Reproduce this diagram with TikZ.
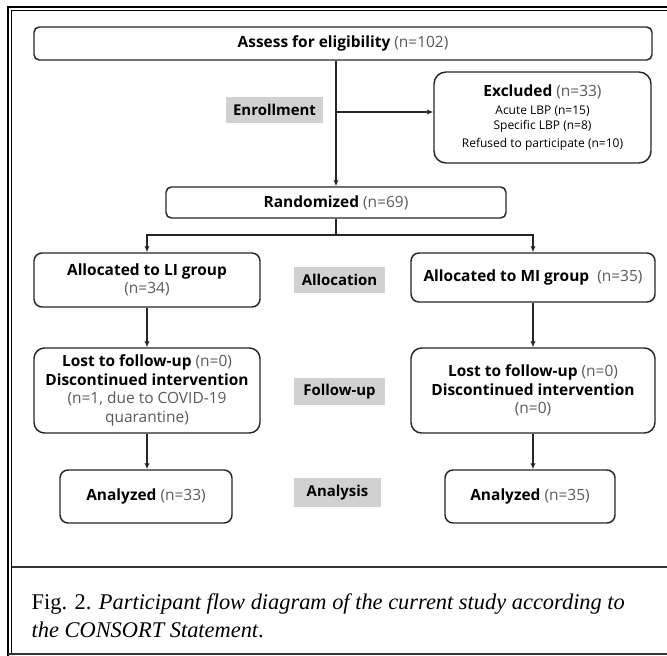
\documentclass[tikz,border=0pt]{standalone}
\usepackage{fontspec}
\setmainfont{Liberation Serif}
\newfontfamily\flowfont{Open Sans}
\usepackage{tikz}
\usetikzlibrary{arrows.meta}
\newcommand{\nn}[1]{{\mdseries\color{black!65}#1}}
\tikzset{
	box/.style={draw=black!85,line width=1.1pt,rounded corners=4pt,align=center,inner sep=1pt,
		font=\flowfont\fontsize{11.6}{13.9}\selectfont\bfseries},
	stage/.style={fill=black!18,inner sep=0pt,align=center,font=\flowfont\fontsize{11.2}{13.5}\selectfont\bfseries},
	arr/.style={draw=black!85,line width=1.1pt,-{Latex[length=4.5pt,width=4pt]}},
	ln/.style={draw=black!85,line width=1.1pt}
}
\begin{document}
\begin{tikzpicture}[x=0.75pt,y=-0.75pt]
			\useasboundingbox (0,0) rectangle (667,656);
			\draw[line width=2pt] (8,656) -- (8,7) -- (667,7);
			\draw[line width=0.6pt] (11.5,654) -- (11.5,10.5) -- (667,10.5);
			\draw[line width=0.8pt,black!80] (8,654) -- (667,654) (11.5,567) -- (667,567);
			\node[box,minimum width=463.5pt,minimum height=24.75pt] (assess) at (343,43.5) {Assess for eligibility \nn{(n=102)}};
			\node[box,rounded corners=9pt,minimum width=162.75pt,minimum height=68.25pt] (excl) at (542.5,117.5) {Excluded \nn{(n=33)}\\[-1pt]
				{\fontsize{9}{11}\selectfont\mdseries Acute LBP (n=15)}\\[-2pt]
				{\fontsize{9}{11}\selectfont\mdseries Specific LBP (n=8)}\\[-1pt]
				{\fontsize{9}{11}\selectfont\mdseries Refused to participate (n=10)}};
			\node[stage,minimum width=72.75pt,minimum height=19.5pt] (enrol) at (274.5,110) {Enrollment};
			\node[box,minimum width=255pt,minimum height=23.25pt] (rand) at (336,202.5) {Randomized \nn{(n=69)}};
			\node[box,rounded corners=6pt,minimum width=169.5pt,minimum height=40.5pt] (li) at (147,280) {Allocated to LI group\\\nn{(n=34)}};
			\node[stage,minimum width=68.25pt,minimum height=19.5pt] (alloc) at (339.5,280) {Allocation};
			\node[box,rounded corners=6pt,minimum width=183pt,minimum height=36.75pt] (mi) at (533,277.5) {Allocated to MI group~ \nn{(n=35)}};
			\node[box,rounded corners=8pt,minimum width=169.5pt,minimum height=63.75pt] (lifu) at (147,390.5) {Lost to follow-up \nn{(n=0)}\\Discontinued intervention\\\nn{(n=1, due to COVID-19}\\\nn{quarantine)}};
			\node[stage,minimum width=68.25pt,minimum height=20.25pt] (fu) at (339.5,391.5) {Follow-up};
			\node[box,rounded corners=8pt,minimum width=183pt,minimum height=63.75pt] (mifu) at (533,390.5) {Lost to follow-up \nn{(n=0)}\\Discontinued intervention\\\nn{(n=0)}};
			\node[box,rounded corners=6pt,minimum width=129pt,minimum height=39.75pt] (lian) at (146,496.5) {Analyzed \nn{(n=33)}};
			\node[stage,minimum width=65.25pt,minimum height=21.75pt] (anal) at (337.5,492.5) {Analysis};
			\node[box,rounded corners=6pt,minimum width=127.5pt,minimum height=39.75pt] (mian) at (530,496.5) {Analyzed \nn{(n=35)}};
			\coordinate (exc) at (336,112);
			\coordinate (split) at (336,235);
			\draw[arr] (rand.north |- assess.south) -- (rand.north);
			\draw[arr] (exc) -- (exc -| excl.west);
			\draw[ln] (rand.south) -- (split);
			\draw[arr] (split) -| (li.north);
			\draw[arr] (split) -| (mi.north);
			\draw[arr] (li.south) -- (lifu.north);
			\draw[arr] (mi.south) -- (mifu.north);
			\draw[arr] (lifu.south) -- (lifu.south |- lian.north);
			\draw[arr] (mifu.south) -- (mifu.south |- mian.north);
			\node[anchor=west,align=left,font=\fontsize{16.8}{21}\selectfont] (caption) at (27,616) {Fig. 2. \textit{Participant flow diagram of the current study according to}\\\textit{the CONSORT Statement}.};
		\end{tikzpicture}
\end{document}
